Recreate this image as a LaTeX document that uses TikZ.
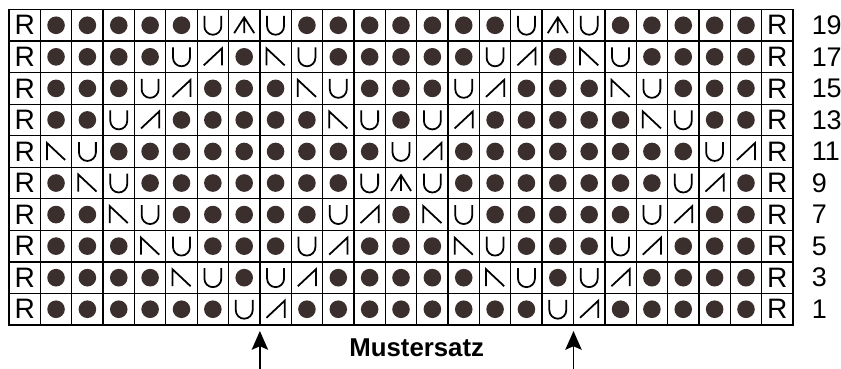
\documentclass[tikz,border=0pt]{standalone}
\usepackage{fontspec}
\setmainfont{Liberation Sans}
\usetikzlibrary{arrows.meta}

\definecolor{dotbrown}{RGB}{58,47,45}

\tikzset{
  sym/.style={line width=1.5pt, line join=miter},
  gridline/.style={line width=1.1pt},
  rowlabel/.style={anchor=west, inner sep=0pt, font=\fontsize{23}{23}\selectfont},
  repeatarrow/.style={-{Stealth[length=16pt, width=14pt, inset=3pt]}, line width=1.3pt},
  % --- die Strickzeichen ---
  stR/.pic={\node[inner sep=0pt, font=\fontsize{24}{24}\selectfont] (-r) {R};},
  sto/.pic={\fill[dotbrown] (0,0) circle (0.28);},
  stu/.pic={\draw[sym] (-0.27,-0.3) -- (-0.27,0.03) arc (180:0:0.27) -- (0.27,-0.3);},
  sta/.pic={\draw[sym] (-0.29,0.27) -- (0.29,-0.27) -- (0.29,0.27);},
  stb/.pic={\draw[sym] (-0.29,0.27) -- (-0.29,-0.27) -- (0.29,0.27);},
  stm/.pic={\draw[sym] (-0.32,0.25) -- (0,-0.25) -- (0.32,0.25) (0,-0.25) -- (0,0.25);},
}

\begin{document}
\begin{tikzpicture}[x=0.9408cm, y=-0.9465cm]
  \useasboundingbox (-0.287,-0.301) rectangle (26.53,11.394);

  % --- Gitter ---
  \foreach \c in {1,...,24}
    \draw[gridline] (\c,0) -- (\c,10);
  \foreach \r in {1,...,9}
    \draw[gridline] (0,\r) -- (25,\r);
  \draw[line width=1.5pt] (0,0) rectangle (25,10);

  % --- Reihen 19, 17, ..., 1 (von oben nach unten) ---
  \foreach \row [count=\r from 0] in {
    {R,o,o,o,o,o,u,m,u,o,o,o,o,o,o,o,u,m,u,o,o,o,o,o,R},
    {R,o,o,o,o,u,a,o,b,u,o,o,o,o,o,u,a,o,b,u,o,o,o,o,R},
    {R,o,o,o,u,a,o,o,o,b,u,o,o,o,u,a,o,o,o,b,u,o,o,o,R},
    {R,o,o,u,a,o,o,o,o,o,b,u,o,u,a,o,o,o,o,o,b,u,o,o,R},
    {R,b,u,o,o,o,o,o,o,o,o,o,u,a,o,o,o,o,o,o,o,o,u,a,R},
    {R,o,b,u,o,o,o,o,o,o,o,u,m,u,o,o,o,o,o,o,o,u,a,o,R},
    {R,o,o,b,u,o,o,o,o,o,u,a,o,b,u,o,o,o,o,o,u,a,o,o,R},
    {R,o,o,o,b,u,o,o,o,u,a,o,o,o,b,u,o,o,o,u,a,o,o,o,R},
    {R,o,o,o,o,b,u,o,u,a,o,o,o,o,o,b,u,o,u,a,o,o,o,o,R},
    {R,o,o,o,o,o,o,u,a,o,o,o,o,o,o,o,o,u,a,o,o,o,o,o,R}}
  {
    \foreach \s [count=\c from 0] in \row
      \pic (c\r-\c) at (\c+0.5,\r+0.5) {st\s};
    \pgfmathtruncatemacro\lab{19-2*\r}
    \node[rowlabel] (n\lab) at (25.59,\r+0.5) {\lab};
  }

  % --- Mustersatz mit Pfeilen ---
  \coordinate (tipL) at (8,10.19);
  \coordinate (footL) at (8,11.394);
  \coordinate (tipR) at (18,10.19);
  \coordinate (footR) at (18,11.394);
  \draw[repeatarrow] (footL) -- (tipL);
  \draw[repeatarrow] (footR) -- (tipR);
  \node[font=\bfseries\fontsize{22}{22}\selectfont] (muster) at (13,10.73) {Mustersatz};

\end{tikzpicture}
\end{document}
